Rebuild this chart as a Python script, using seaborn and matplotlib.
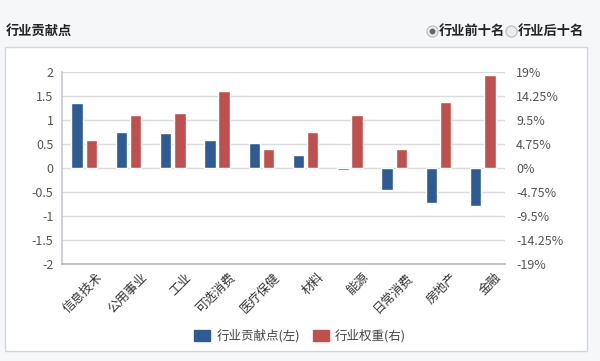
import numpy as np
import pandas as pd
import matplotlib
matplotlib.use("Agg")
import matplotlib.pyplot as plt
import matplotlib.transforms as mtransforms
from matplotlib.patches import Rectangle
from matplotlib.lines import Line2D
import seaborn as sns

categories = ["信息技术", "公用事业", "工业", "可选消费", "医疗保健", "材料", "能源", "日常消费", "房地产", "金融"]
contribution = [1.35, 0.74, 0.72, 0.58, 0.52, 0.27, -0.04, -0.45, -0.73, -0.80]
weight_pct = [5.5, 10.5, 10.9, 15.3, 3.8, 7.2, 10.5, 3.7, 13.0, 18.4]
series_names = ["行业贡献点(左)", "行业权重(右)"]
left_ticks = [-2, -1.5, -1, -0.5, 0, 0.5, 1, 1.5, 2]
left_labels = ["-2", "-1.5", "-1", "-0.5", "0", "0.5", "1", "1.5", "2"]
right_ticks = [-19, -14.25, -9.5, -4.75, 0, 4.75, 9.5, 14.25, 19]
right_labels = ["-19%", "-14.25%", "-9.5%", "-4.75%", "0%", "4.75%", "9.5%", "14.25%", "19%"]
title = "行业贡献点"
radio_labels = ["行业前十名", "行业后十名"]

BLUE = "#2f5b95"
RED = "#c0504d"
FONT = ["Noto Sans CJK SC", "DejaVu Sans"]

sns.set_theme(style="white")
plt.rcParams["font.family"] = FONT

W, H = 600, 361
fig = plt.figure(figsize=(W / 100, H / 100), dpi=100)
fig.patch.set_facecolor("#f6f7f9")

# white panel
fig.add_artist(Rectangle((5 / W, 1 - 351 / H), (587 - 5) / W, (351 - 47) / H,
                         transform=fig.transFigure, facecolor="white",
                         edgecolor="#d3d7dc", linewidth=1.0, zorder=0))

fig.text(6 / W, 1 - 31 / H, title, fontsize=9.5, fontweight="bold", color="#222222",
         va="center", ha="left")

# radio buttons
for i, (lab, x) in enumerate(zip(radio_labels, [432, 511])):
    fig.add_artist(Line2D([x / W], [1 - 31 / H], transform=fig.transFigure, marker="o",
                          markersize=8, markerfacecolor="#ececec", markeredgecolor="#c4c4c4",
                          linestyle="none"))
    if i == 0:
        fig.add_artist(Line2D([x / W], [1 - 31 / H], transform=fig.transFigure, marker="o",
                              markersize=3.2, markerfacecolor="#666666", markeredgecolor="#666666",
                              linestyle="none"))
    fig.text((x + 7) / W, 1 - 31 / H, lab, fontsize=9.5, fontweight="bold", color="#222222",
             va="center", ha="left")

ax = fig.add_axes([62 / W, 1 - 264 / H, (505 - 62) / W, (264 - 72) / H])
ax.set_facecolor("none")
ax2 = ax.twinx()

df = pd.DataFrame({
    "cat": categories * 2,
    "series": [series_names[0]] * len(categories) + [series_names[1]] * len(categories),
    "left": contribution + [np.nan] * len(categories),
    "right": [np.nan] * len(categories) + weight_pct,
})

sns.barplot(data=df, x="cat", y="left", hue="series", hue_order=series_names,
            palette=[BLUE, RED], order=categories, dodge=True, width=0.64, gap=0.2,
            ax=ax, legend=False, errorbar=None, saturation=1)
sns.barplot(data=df, x="cat", y="right", hue="series", hue_order=series_names,
            palette=[BLUE, RED], order=categories, dodge=True, width=0.64, gap=0.2,
            ax=ax2, legend=False, errorbar=None, saturation=1)

ax.set_ylim(-2, 2)
ax2.set_ylim(-19, 19)
ax.set_xlim(-0.5, len(categories) - 0.5)
ax.set_yticks(left_ticks)
ax.set_yticklabels(left_labels)
ax2.set_yticks(right_ticks)
ax2.set_yticklabels(right_labels)
ax.set_xlabel("")
ax.set_ylabel("")
ax2.set_ylabel("")

ax.yaxis.grid(True, color="#d9dbde", linewidth=1.0)
ax.set_axisbelow(True)
ax2.grid(False)

for a in (ax, ax2):
    for s in ("top", "right", "left", "bottom"):
        a.spines[s].set_visible(False)
ax.spines["left"].set_visible(True)
ax.spines["left"].set_color("#c9ccd1")
ax.spines["bottom"].set_visible(True)
ax.spines["bottom"].set_color("#b8bcc2")

ax.tick_params(axis="y", length=0, labelsize=9, labelcolor="#555555", pad=6)
ax2.tick_params(axis="y", length=0, labelsize=9, labelcolor="#555555", pad=8)

# category boundary ticks
ax.set_xticks(np.arange(len(categories)))
ax.set_xticks(np.arange(-0.5, len(categories), 1.0), minor=True)
ax.tick_params(axis="x", which="major", length=0, pad=2)
ax.tick_params(axis="x", which="minor", length=5, color="#b8bcc2", width=1)
offset = mtransforms.ScaledTranslation(12 / 100, -4 / 100, fig.dpi_scale_trans)
ax.set_xticklabels(categories, rotation=45, ha="right", rotation_mode="anchor",
                   fontsize=9, color="#333333")
for lab in ax.get_xticklabels():
    lab.set_transform(lab.get_transform() + offset)

# legend
handles = [Rectangle((0, 0), 1, 1, facecolor=c, edgecolor=c) for c in (BLUE, RED)]
fig.legend(handles, series_names, loc="center", bbox_to_anchor=(300 / W, 1 - 336 / H),
           ncol=2, frameon=False, fontsize=9, handlelength=1.3, handleheight=1.0,
           columnspacing=1.0, handletextpad=0.5, labelcolor="#444444")

fig.savefig("out.png", dpi=100, facecolor=fig.get_facecolor())
